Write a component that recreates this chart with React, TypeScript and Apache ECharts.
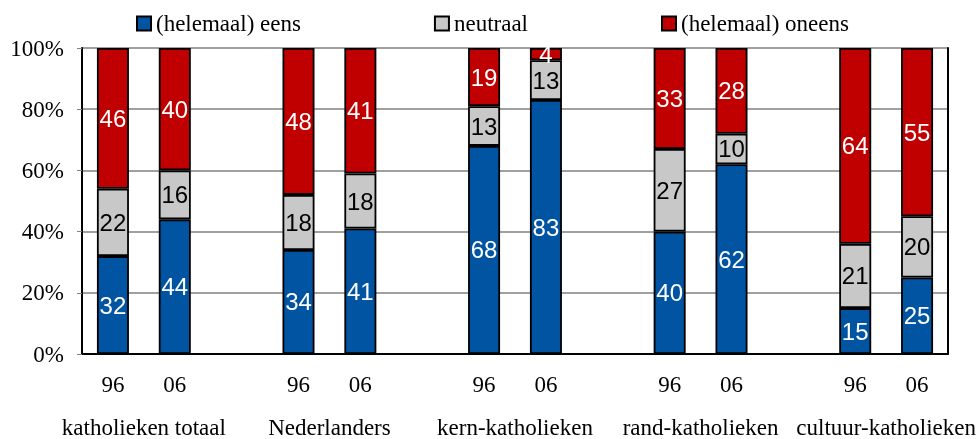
import React, { useEffect, useRef } from "react";
import * as echarts from "echarts";

const years = ["96", "06", "", "96", "06", "", "96", "06", "", "96", "06", "", "96", "06"];
const groups = ["", "katholieken totaal", "", "", "Nederlanders", "", "", "kern-katholieken", "", "", "rand-katholieken", "", "", "cultuur-katholieken", ""];
const seriesNames = ["(helemaal) eens", "neutraal", "(helemaal) oneens"];
const eens = [32, 44, "-", 34, 41, "-", 68, 83, "-", 40, 62, "-", 15, 25];
const neutraal = [22, 16, "-", 18, 18, "-", 13, 13, "-", 27, 10, "-", 21, 20];
const oneens = [46, 40, "-", 48, 41, "-", 19, 4, "-", 33, 28, "-", 64, 55];
const yTicks = { min: 0, max: 100, interval: 20 };

const colors = ["#0054A2", "#C8C8C8", "#C00000"];
const labelColors = ["#ffffff", "#000000", "#ffffff"];

export default function App() {
  const ref = useRef<HTMLDivElement>(null);
  useEffect(() => {
    if (!ref.current) return;
    const chart = echarts.init(ref.current, null, { renderer: "svg" });
    const serif = "'Liberation Serif', 'Times New Roman', serif";
    const sans = "'Liberation Sans', Arial, sans-serif";
    const data = [eens, neutraal, oneens];
    chart.setOption({
      animation: false,
      legend: {
        data: seriesNames,
        left: 136,
        top: 12,
        padding: 0,
        itemWidth: 14,
        itemHeight: 14,
        itemGap: 133,
        icon: "rect",
        textStyle: { fontFamily: serif, fontSize: 23, color: "#000" },
      },
      grid: { left: 82, right: 31, top: 48, bottom: 84 },
      xAxis: [
        {
          type: "category",
          data: years,
          axisLine: { show: true, lineStyle: { color: "#000", width: 2 } },
          axisTick: { show: false },
          axisLabel: { interval: 0, margin: 19, fontFamily: serif, fontSize: 23, color: "#000" },
        },
        {
          type: "category",
          data: groups,
          boundaryGap: false,
          position: "bottom",
          axisLine: { show: false },
          axisTick: { show: false },
          axisLabel: { interval: 0, margin: 62, fontFamily: serif, fontSize: 23, color: "#000" },
        },
      ],
      yAxis: [
        {
          type: "value",
          min: yTicks.min,
          max: yTicks.max,
          interval: yTicks.interval,
          axisLine: { show: true, lineStyle: { color: "#000", width: 2 } },
          axisTick: { show: true, length: 5, lineStyle: { color: "#808080" } },
          axisLabel: { formatter: "{value}%", margin: 18, fontFamily: serif, fontSize: 23, color: "#000" },
          splitLine: { show: true, lineStyle: { color: "#808080", width: 1.5 } },
        },
        {
          type: "value",
          position: "right",
          min: yTicks.min,
          max: yTicks.max,
          interval: yTicks.interval,
          axisLine: { show: true, lineStyle: { color: "#000", width: 2 } },
          axisTick: { show: false },
          axisLabel: { show: false },
          splitLine: { show: false },
        },
      ],
      series: seriesNames.map((name, i) => ({
        name,
        type: "bar",
        stack: "total",
        data: data[i],
        barWidth: 32,
        itemStyle: { color: colors[i], borderColor: "#000", borderWidth: 1.8 },
        label: {
          show: true,
          position: "inside",
          color: labelColors[i],
          fontFamily: sans,
          fontSize: 24,
        },
      })),
    });
    return () => chart.dispose();
  }, []);
  return <div ref={ref} style={{ position: "fixed", left: 0, top: 0, width: 979, height: 439 }} />;
}
